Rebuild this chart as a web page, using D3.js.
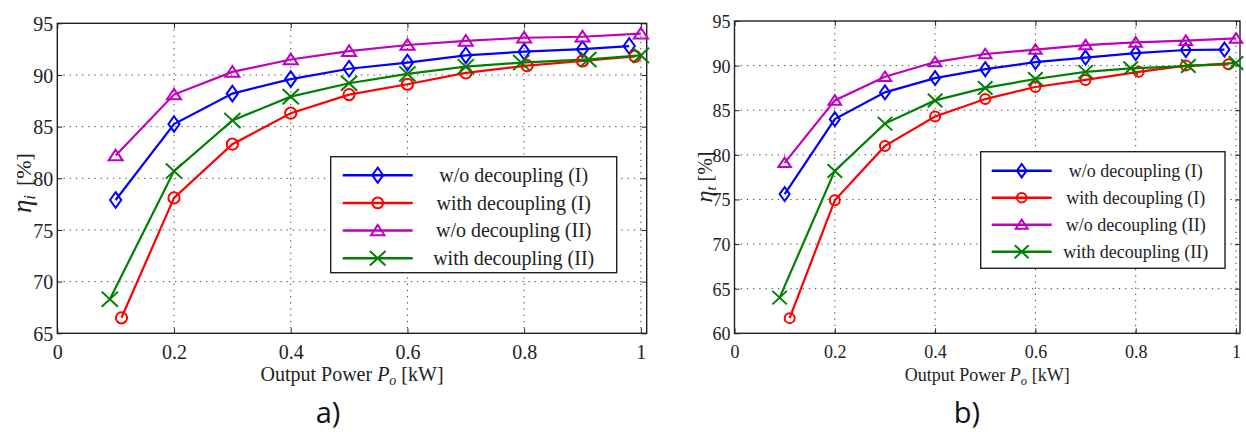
<!DOCTYPE html>
<html><head><meta charset="utf-8">
<script src="https://cdn.jsdelivr.net/npm/d3@7"></script>
<style>
body{margin:0;background:#fff;}
svg text{font-family:'Liberation Serif','Tinos','Times New Roman','DejaVu Serif',serif !important;fill:#222;}
svg text.cap{font-family:'Open Sans','Noto Sans',sans-serif !important;fill:#111;}
</style></head>
<body><svg id="c" width="1246" height="432"></svg>
<script>
// ---------- data ----------
const xTicks = [0, 0.2, 0.4, 0.6, 0.8, 1];
const xTickLabels = ["0", "0.2", "0.4", "0.6", "0.8", "1"];
const yTicksA = [65, 70, 75, 80, 85, 90, 95];
const yTicksB = [60, 65, 70, 75, 80, 85, 90, 95];
const seriesNames = ["w/o decoupling (I)", "with decoupling (I)", "w/o decoupling (II)", "with decoupling (II)"];

// chart a) eta_i
const powerA_woI  = [0.1, 0.2, 0.3, 0.4, 0.5, 0.6, 0.7, 0.8, 0.9, 0.98];
const effA_woI    = [77.9, 85.25, 88.2, 89.6, 90.6, 91.2, 91.9, 92.25, 92.5, 92.8];
const powerA_wI   = [0.11, 0.2, 0.3, 0.4, 0.5, 0.6, 0.7, 0.805, 0.9, 0.99];
const effA_wI     = [66.5, 78.1, 83.3, 86.3, 88.1, 89.1, 90.2, 90.9, 91.35, 91.8];
const powerA_woII = [0.1, 0.2, 0.3, 0.4, 0.5, 0.6, 0.7, 0.8, 0.9, 1.0];
const effA_woII   = [82.2, 88.1, 90.3, 91.5, 92.3, 92.9, 93.3, 93.6, 93.7, 94.0];
const powerA_wII  = [0.09, 0.2, 0.3, 0.4, 0.5, 0.6, 0.7, 0.795, 0.91, 1.0];
const effA_wII    = [68.3, 80.7, 85.6, 87.9, 89.2, 90.1, 90.8, 91.2, 91.5, 91.9];

// chart b) eta_t
const powerB_woI  = [0.1, 0.2, 0.3, 0.4, 0.5, 0.6, 0.7, 0.8, 0.9, 0.977];
const effB_woI    = [75.6, 84.0, 87.0, 88.6, 89.6, 90.4, 90.9, 91.4, 91.75, 91.8];
const powerB_wI   = [0.11, 0.2, 0.3, 0.4, 0.5, 0.6, 0.7, 0.806, 0.9, 0.985];
const effB_wI     = [61.7, 74.9, 81.0, 84.3, 86.25, 87.6, 88.4, 89.3, 90.0, 90.15];
const powerB_woII = [0.1, 0.2, 0.3, 0.4, 0.5, 0.6, 0.7, 0.8, 0.9, 1.0];
const effB_woII   = [79.1, 86.1, 88.75, 90.4, 91.3, 91.8, 92.3, 92.6, 92.8, 93.05];
const powerB_wII  = [0.09, 0.2, 0.3, 0.4, 0.5, 0.6, 0.7, 0.79, 0.905, 1.0];
const effB_wII    = [64.0, 78.2, 83.5, 86.1, 87.5, 88.5, 89.3, 89.7, 89.95, 90.3];

// ---------- drawing ----------
const svg = d3.select("#c");
const colors = ["#0000ff", "#ff0000", "#bf00bf", "#008000"];
const markers = ["diamond", "circle", "triangle", "x"];

function markerPath(type, s) {
  if (type === "diamond") return `M0,${-s*1.4}L${s*1.0},0L0,${s*1.4}L${-s*1.0},0Z`;
  if (type === "triangle") return `M0,${-s*1.05}L${s*1.25},${s*0.85}L${-s*1.25},${s*0.85}Z`;
  if (type === "x") return `M${-s*1.45},${-s*1.35}L${s*1.45},${s*1.35}M${-s*1.45},${s*1.35}L${s*1.45},${-s*1.35}`;
  return null;
}
function drawMarker(g, type, x, y, s, color, sw) {
  if (type === "circle") {
    g.append("circle").attr("cx", x).attr("cy", y).attr("r", s).attr("fill", "none").attr("stroke", color).attr("stroke-width", sw);
  } else {
    g.append("path").attr("d", markerPath(type, s)).attr("transform", `translate(${x},${y})`)
      .attr("fill", "none").attr("stroke", color).attr("stroke-width", sw);
  }
}

function chart(cfg) {
  const g = svg.append("g");
  const x = d3.scaleLinear().domain([0, cfg.xMax]).range([cfg.left, cfg.right]);
  const y = d3.scaleLinear().domain([cfg.yTicks[0], cfg.yTicks[cfg.yTicks.length-1]]).range([cfg.bottom, cfg.top]);
  const fs = cfg.fs;

  // grid
  g.append("g").selectAll("line").data(xTicks.filter(d => d > 0)).join("line")
    .attr("x1", d => x(d)).attr("x2", d => x(d)).attr("y1", cfg.top).attr("y2", cfg.bottom)
    .attr("stroke", "#333").attr("stroke-width", 1).attr("stroke-dasharray", "1.2,5");
  g.append("g").selectAll("line").data(cfg.yTicks.slice(1, -1)).join("line")
    .attr("y1", d => y(d)).attr("y2", d => y(d)).attr("x1", cfg.left).attr("x2", cfg.right)
    .attr("stroke", "#333").attr("stroke-width", 1).attr("stroke-dasharray", "1.2,5");

  // axes (inner ticks on all sides)
  const gx = g.append("g").attr("transform", `translate(0,${cfg.bottom})`)
    .call(d3.axisBottom(x).tickValues(xTicks).tickFormat((d, i) => xTickLabels[i]).tickSizeInner(-5).tickSizeOuter(0).tickPadding(cfg.xPad));
  const gxt = g.append("g").attr("transform", `translate(0,${cfg.top})`)
    .call(d3.axisTop(x).tickValues(xTicks).tickFormat("").tickSizeInner(-5).tickSizeOuter(0));
  const gy = g.append("g").attr("transform", `translate(${cfg.left},0)`)
    .call(d3.axisLeft(y).tickValues(cfg.yTicks).tickFormat(d3.format("d")).tickSizeInner(-5).tickSizeOuter(0).tickPadding(4));
  const gyr = g.append("g").attr("transform", `translate(${cfg.right},0)`)
    .call(d3.axisRight(y).tickValues(cfg.yTicks).tickFormat("").tickSizeInner(-5).tickSizeOuter(0));
  [gx, gxt, gy, gyr].forEach(a => {
    a.attr("font-family", null).attr("font-size", null);
    a.select(".domain").remove();
    a.selectAll("line").attr("stroke", "#222").attr("stroke-width", 1);
    a.selectAll("text").style("font-size", fs + "px").attr("fill", "#222");
  });
  gy.selectAll("text").attr("dy", "0.36em");

  // frame
  g.append("rect").attr("x", cfg.left).attr("y", cfg.top).attr("width", cfg.right - cfg.left).attr("height", cfg.bottom - cfg.top)
    .attr("fill", "none").attr("stroke", "#222").attr("stroke-width", 1.4);

  // series
  const line = d3.line().x(d => x(d[0])).y(d => y(d[1]));
  cfg.series.forEach((s, i) => {
    const pts = s.px.map((p, j) => [p, s.py[j]]);
    g.append("path").attr("d", line(pts)).attr("fill", "none").attr("stroke", colors[i]).attr("stroke-width", 2.2);
    pts.forEach(p => drawMarker(g, markers[i], x(p[0]), y(p[1]), cfg.ms, colors[i], 2));
  });

  // legend
  const L = cfg.legend;
  const lg = g.append("g");
  lg.append("rect").attr("x", L.x).attr("y", L.y).attr("width", L.w).attr("height", L.h)
    .attr("fill", "#fff").attr("stroke", "#222").attr("stroke-width", 1.4);
  seriesNames.forEach((n, i) => {
    const yy = L.y + L.first + i * L.step;
    lg.append("line").attr("x1", L.x + L.l0).attr("x2", L.x + L.l1).attr("y1", yy).attr("y2", yy)
      .attr("stroke", colors[i]).attr("stroke-width", 2.5);
    drawMarker(lg, markers[i], L.x + (L.l0 + L.l1) / 2, yy, L.ms, colors[i], 2);
    lg.append("text").attr("x", L.x + L.tx).attr("y", yy).attr("dy", "0.33em").attr("text-anchor", "middle")
      .style("font-size", L.fs + "px").text(n);
  });

  // axis labels
  const xl = g.append("text").attr("x", (cfg.left + cfg.right) / 2).attr("y", cfg.xLabelY).attr("text-anchor", "middle").style("font-size", fs + "px");
  xl.append("tspan").text("Output Power ");
  xl.append("tspan").attr("font-style", "italic").text("P");
  xl.append("tspan").attr("font-style", "italic").style("font-size", (fs * 0.7) + "px").attr("dy", 4).text("o");
  xl.append("tspan").attr("dy", -4).text(" [kW]");

  const Y = cfg.yl;
  const yl = g.append("text").attr("transform", `translate(${Y.x},${Y.y}) rotate(-90)`).attr("text-anchor", "middle").style("font-size", Y.fs + "px");
  yl.append("tspan").attr("font-style", "italic").style("font-size", Y.etaFs + "px").text("η");
  yl.append("tspan").attr("font-style", "italic").style("font-size", (Y.fs * 0.72) + "px").attr("dy", 4).text(cfg.sub);
  yl.append("tspan").attr("dy", -4).attr("dx", Y.gap).style("font-size", Y.fs + "px").text("[%]");

  svg.append("text").attr("class", "cap").attr("x", cfg.capX).attr("y", 423).attr("text-anchor", "middle")
    .style("font-size", "29px").text(cfg.cap);
}

chart({
  left: 57.3, right: 646.7, top: 23.3, bottom: 333.3, xMax: 1.01, yTicks: yTicksA, fs: 20, xPad: 12, ms: 5.6,
  series: [
    {px: powerA_woI, py: effA_woI}, {px: powerA_wI, py: effA_wI},
    {px: powerA_woII, py: effA_woII}, {px: powerA_wII, py: effA_wII}],
  legend: {x: 330.7, y: 156.7, w: 286, h: 116, first: 18.5, step: 27.7, l0: 12, l1: 82, tx: 183, fs: 20, ms: 5.4},
  xLabelY: 381, yl: {x: 31, y: 183, fs: 22, etaFs: 27, gap: 9}, sub: "i", cap: "a)", capX: 328
});
chart({
  left: 734.5, right: 1240, top: 21, bottom: 333.3, xMax: 1.008, yTicks: yTicksB, fs: 18, xPad: 12, ms: 5,
  series: [
    {px: powerB_woI, py: effB_woI}, {px: powerB_wI, py: effB_wI},
    {px: powerB_woII, py: effB_woII}, {px: powerB_wII, py: effB_wII}],
  legend: {x: 980.7, y: 151.7, w: 244.3, h: 116.6, first: 19, step: 27, l0: 11, l1: 71, tx: 155, fs: 18, ms: 4.8},
  xLabelY: 381, yl: {x: 712, y: 177, fs: 20, etaFs: 24, gap: 5}, sub: "t", cap: "b)", capX: 967
});
</script></body></html>
